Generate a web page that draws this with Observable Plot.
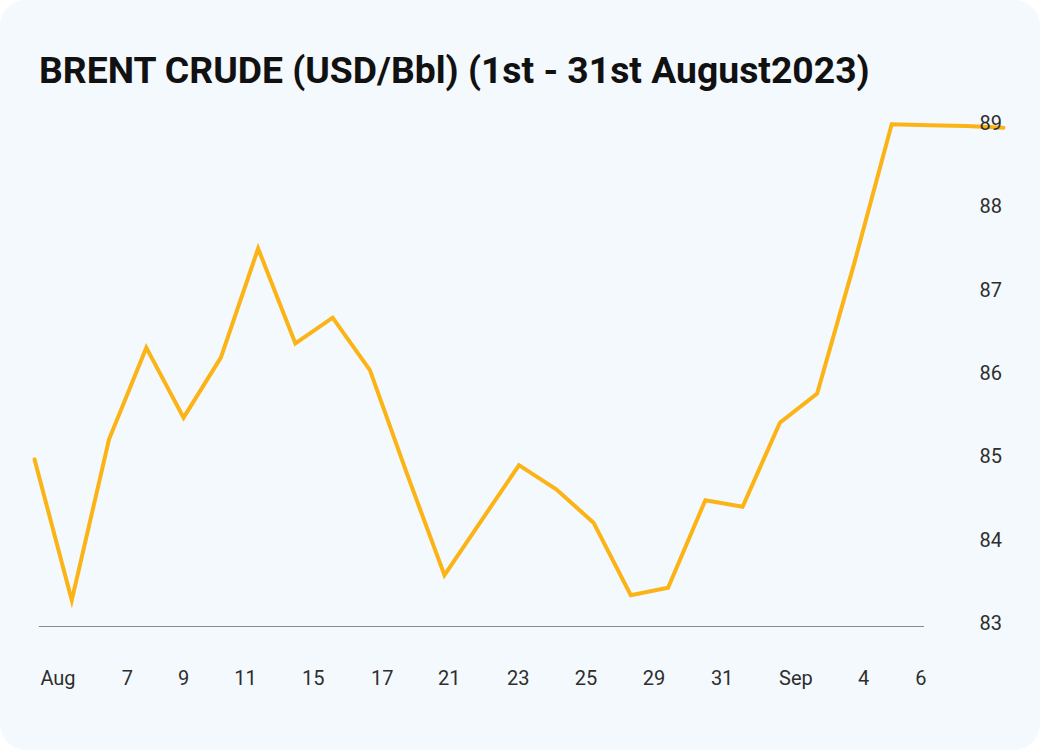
<!DOCTYPE html>
<html>
<head>
<meta charset="utf-8">
<script src="https://cdn.jsdelivr.net/npm/d3@7"></script>
<script src="https://cdn.jsdelivr.net/npm/@observablehq/plot@0.6"></script>
<style>
  html, body { margin: 0; padding: 0; background: #ffffff; }
  #card { position: relative; width: 1040px; height: 750px; background: #f4f9fd; border-radius: 26px; overflow: hidden; font-family: Roboto, sans-serif; }
  #title { position: absolute; left: 39px; top: 52px; margin: 0; font-size: 37.3px; line-height: 1; font-weight: 700; color: #111; white-space: nowrap; }
  #chart { position: absolute; left: 0; top: 100px; }
</style>
</head>
<body>
<div id="card">
  <h1 id="title">BRENT CRUDE (USD/Bbl) (1st - 31st August2023)</h1>
  <div id="chart"></div>
</div>
<script>
// Brent crude price, one value per trading session (index along x)
const prices = [84.97, 83.28, 85.21, 86.31, 85.47, 86.19, 87.50, 86.36, 86.67, 86.04,
                84.79, 83.58, 84.24, 84.90, 84.61, 84.21, 83.34, 83.43, 84.48, 84.40,
                85.41, 85.76, 87.33, 88.99, 88.98, 88.97, 88.95];

// x-axis tick labels and their positions (in session-index units)
const xTickLabels = ["Aug", "7", "9", "11", "15", "17", "21", "23", "25", "29", "31", "Sep", "4", "6"];
const xTickPositions = [0.63, 2.49, 4.0, 5.66, 7.48, 9.33, 11.13, 12.98, 14.80, 16.62, 18.45, 20.43, 22.25, 23.78];

// y-axis ticks
const yTicks = [83, 84, 85, 86, 87, 88, 89];

// extent of the baseline rule (session-index units)
const baselineStart = 0.13;
const baselineEnd = 23.88;

const series = prices.map((v, i) => ({i, v}));
const xTicks = xTickLabels.map((label, k) => ({pos: xTickPositions[k], label}));

const chart = Plot.plot({
  width: 1040,
  height: 650,
  marginLeft: 34,
  marginRight: 37,
  marginTop: 23,
  marginBottom: 127,
  style: {background: "transparent", fontFamily: "Roboto, sans-serif", fontSize: "20px", color: "#2e2e2e", overflow: "visible"},
  x: {domain: [0, prices.length - 1], axis: null},
  y: {domain: [83, 89], axis: null},
  marks: [
    Plot.ruleY([83], {x1: baselineStart, x2: baselineEnd, dy: 3, stroke: "#8f8a86", strokeWidth: 1.2}),
    Plot.line(series, {x: "i", y: "v", stroke: "#fbb316", strokeWidth: 4, strokeLinejoin: "miter", strokeMiterlimit: 10}),
    Plot.text(xTicks, {x: "pos", text: "label", frameAnchor: "bottom", dy: 61, fill: "#2e2e2e"}),
    Plot.text(yTicks, {y: d => d, text: d => String(d), frameAnchor: "right", textAnchor: "start", dx: -24, fill: "#2e2e2e"})
  ]
});
document.getElementById("chart").appendChild(chart);
</script>
</body>
</html>
